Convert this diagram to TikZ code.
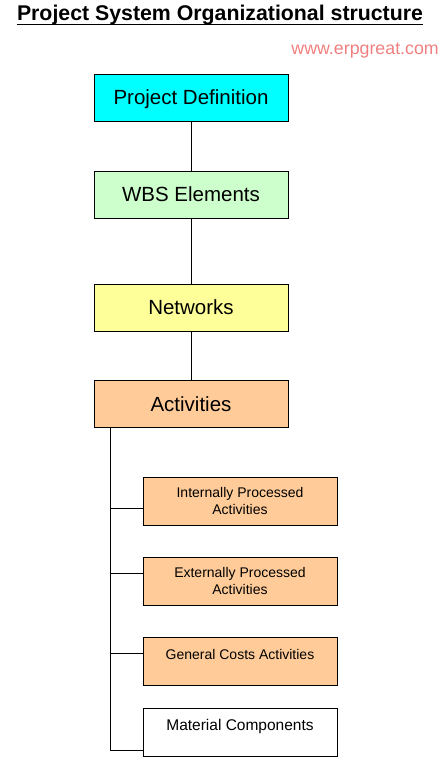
\documentclass[tikz,border=0pt]{standalone}
\usepackage{fontspec}
\setmainfont{Liberation Sans}
\usepackage{xcolor}
\usepackage{tikz}
\usetikzlibrary{shapes,arrows,positioning,fit,calc}

\definecolor{pdcyan}{RGB}{0,255,255}
\definecolor{wbsgreen}{RGB}{204,255,204}
\definecolor{netyellow}{RGB}{255,255,153}
\definecolor{actorange}{RGB}{255,204,153}
\definecolor{urlred}{RGB}{240,128,128}

\tikzset{
  mainbox/.style={draw, line width=0.9pt, minimum width=194pt, minimum height=47pt, inner sep=0pt,
    text height=14.7pt, text depth=0pt, font=\fontsize{20.5}{24}\selectfont},
  subbox/.style={draw, line width=0.9pt, minimum width=194pt, minimum height=48pt, inner sep=0pt,
    align=center, font=\fontsize{14}{17}\selectfont},
  toptext/.style={text height=10pt, text depth=14pt},
  link/.style={line width=0.9pt}
}

\begin{document}
\begin{tikzpicture}[x=1pt, y=-1pt]
        \useasboundingbox (0,0) rectangle (443,773);

        % Title and web address
        \node[anchor=base, inner sep=0pt, font=\bfseries\fontsize{21.3}{24}\selectfont] (title) at (220,20.5) {Project System Organizational structure};
        \draw[link] ([yshift=-3.5pt]title.base west) -- ([yshift=-3.5pt]title.base east);
        \node[anchor=base east, inner sep=0pt, text=urlred, font=\fontsize{17.8}{20}\selectfont] (url) at (439,54.5) {www.erpgreat.com};

        % Main levels
        \node[mainbox, fill=pdcyan] (pd) at (191,97.5) {Project Definition};
        \node[mainbox, fill=wbsgreen] (wbs) at (191,194.5) {WBS Elements};
        \node[mainbox, fill=netyellow] (net) at (191,307.5) {Networks};
        \node[mainbox, fill=actorange] (act) at (191,404) {Activities};

        \draw[link] (pd) -- (wbs);
        \draw[link] (wbs) -- (net);
        \draw[link] (net) -- (act);

        % Activity types
        \node[subbox, fill=actorange] (int) at (240,501) {Internally Processed\\Activities};
        \node[subbox, fill=actorange] (ext) at (240,581) {Externally Processed\\Activities};
        \node[subbox, fill=actorange, toptext] (gen) at (240,661.5) {General Costs Activities};
        \node[subbox, toptext, font=\fontsize{15.5}{18}\selectfont] (mat) at (240,732.5) {Material Components};

        % Tree lines
        \coordinate (spine) at ($(act.south west)+(16.5,0)$);
        \coordinate (b-int) at ($(int.north west)+(0,32)$);
        \coordinate (b-ext) at ($(ext.north west)+(0,17)$);
        \coordinate (b-gen) at ($(gen.north west)+(0,16)$);
        \coordinate (b-mat) at ($(mat.north west)+(0,42)$);
        \draw[link] (spine) |- (b-mat);
        \foreach \b in {int,ext,gen}
          \draw[link] (b-\b) -- (spine |- b-\b);
      \end{tikzpicture}
\end{document}
